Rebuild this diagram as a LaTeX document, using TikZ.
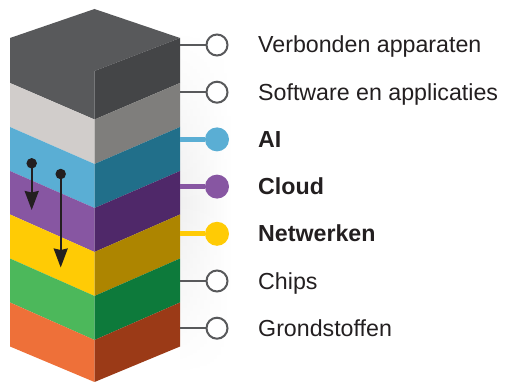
\documentclass[tikz,border=0pt]{standalone}
\usepackage{fontspec}
\setmainfont{Liberation Sans}
\usetikzlibrary{arrows.meta,fadings}
\definecolor{txt}{HTML}{231F20}
\definecolor{lnk}{HTML}{58595B}
\definecolor{topL}{HTML}{58595B}
\definecolor{topR}{HTML}{444547}
\definecolor{greyL}{HTML}{D1CDCB}
\definecolor{greyR}{HTML}{7F7E7C}
\definecolor{blueL}{HTML}{5AAED4}
\definecolor{blueR}{HTML}{216F8A}
\definecolor{purpL}{HTML}{8756A2}
\definecolor{purpR}{HTML}{4F2869}
\definecolor{yellL}{HTML}{FFCB05}
\definecolor{yellR}{HTML}{AD8500}
\definecolor{grenL}{HTML}{4CB85B}
\definecolor{grenR}{HTML}{0D7A3B}
\definecolor{oranL}{HTML}{EE7039}
\definecolor{oranR}{HTML}{9B3A17}
\tikzfading[name=fadeedge, top color=transparent!100, bottom color=transparent!100, middle color=transparent!0]
\tikzset{
  openc/.style={circle, draw=lnk, line width=2pt, fill=white, minimum size=21pt, inner sep=0pt},
  fullc/.style={circle, fill=#1, minimum size=24pt, inner sep=0pt},
  thinlink/.style={draw=lnk, line width=2pt},
  thicklink/.style={draw=#1, line width=5pt},
  lbl/.style={anchor=base west, inner sep=0pt, text=txt, font=\fontsize{23.2}{28}\selectfont},
  blbl/.style={lbl, font=\fontsize{23.2}{28}\selectfont\bfseries},
  dotc/.style={circle, fill=txt, minimum size=10.5pt, inner sep=0pt},
  downarrow/.style={draw=txt, line width=2pt, -{Stealth[length=19pt, width=14pt, inset=1.5pt]}}
}
\begin{document}
\begin{tikzpicture}[x=1pt, y=-1pt]
\useasboundingbox (0,0) rectangle (505,382);
% soft shadow
\shade[left color=black!6, right color=white, path fading=fadeedge] (180,30) rectangle (232,375);
% top cube
\fill[topL] (10,38) -- (94.5,9) -- (180,38) -- (94.5,71) -- (94.5,119.5) -- (10,83) -- cycle;
\fill[topR] (94.5,71) -- (180,38) -- (180,83) -- (94.5,119.5) -- cycle;
% layers
\foreach \cl/\cr/\lt/\ft/\lb/\fb in {
  greyL/greyR/83/119.5/127/164,
  blueL/blueR/127/164/171/208,
  purpL/purpR/171/208/214.5/252,
  yellL/yellR/214.5/252/258.5/296,
  grenL/grenR/258.5/296/302.5/340,
  oranL/oranR/302.5/340/346.5/382}{
  \fill[\cl] (10,\lt) -- (94.5,\ft) -- (94.5,\fb) -- (10,\lb) -- cycle;
  \fill[\cr] (94.5,\ft) -- (180,\lt) -- (180,\lb) -- (94.5,\fb) -- cycle;
}
% arrows
\node[dotc] (a1s) at (31.7,163.3) {};
\coordinate (a1e) at (31.7,210);
\node[dotc] (a2s) at (60.7,174) {};
\coordinate (a2e) at (60.7,267.5);
\draw[downarrow] (a1s.center) -- (a1e);
\draw[downarrow] (a2s.center) -- (a2e);
% connectors
\coordinate (e1) at (180,45);
\coordinate (e2) at (180,92.2);
\coordinate (e3) at (180,139.4);
\coordinate (e4) at (180,186.6);
\coordinate (e5) at (180,233.8);
\coordinate (e6) at (180,281);
\coordinate (e7) at (180,328.2);
\node[openc] (c1) at (217,45) {};
\node[openc] (c2) at (217,92.2) {};
\node[fullc=blueL] (c3) at (217,139.4) {};
\node[fullc=purpL] (c4) at (217,186.6) {};
\node[fullc=yellL] (c5) at (217,233.8) {};
\node[openc] (c6) at (217,281) {};
\node[openc] (c7) at (217,328.2) {};
\draw[thinlink] (e1) -- (c1);
\draw[thinlink] (e2) -- (c2);
\draw[thicklink=blueL] (e3) -- (c3);
\draw[thicklink=purpL] (e4) -- (c4);
\draw[thicklink=yellL] (e5) -- (c5);
\draw[thinlink] (e6) -- (c6);
\draw[thinlink] (e7) -- (c7);
% labels
\node[lbl] (t1) at (258,53) {Verbonden apparaten};
\node[lbl] (t2) at (258,100.2) {Software en applicaties};
\node[blbl] (t3) at (258,147.4) {AI};
\node[blbl] (t4) at (258,194.6) {Cloud};
\node[blbl] (t5) at (258,241.8) {Netwerken};
\node[lbl] (t6) at (258,289) {Chips};
\node[lbl] (t7) at (258,336.2) {Grondstoffen};
\end{tikzpicture}
\end{document}
